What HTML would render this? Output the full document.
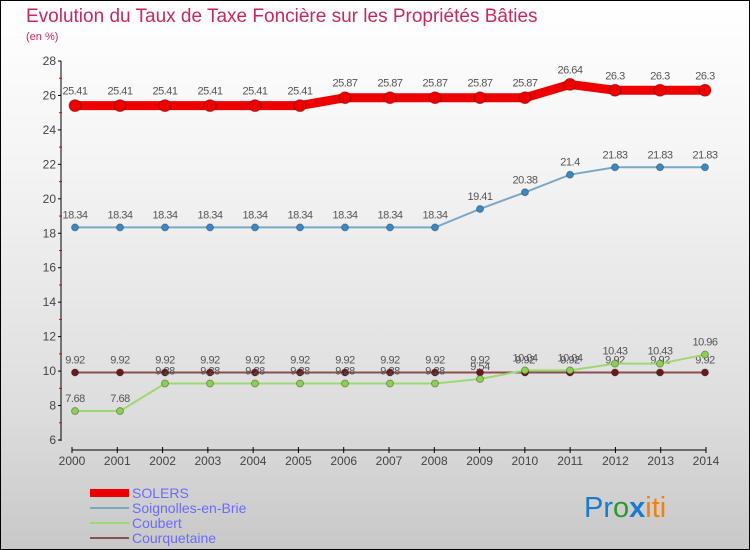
<!DOCTYPE html>
<html><head><meta charset="utf-8"><style>
body{margin:0;width:750px;height:550px;overflow:hidden;font-family:"Liberation Sans",sans-serif}
#bg{position:absolute;left:0;top:0;width:748px;height:548px;border:1px solid #000;background:linear-gradient(#fff,#f4f4f4 30%,#ddd 75%,#c8c8c8)}
</style></head><body>
<div id="bg"></div>
<svg width="750" height="550" style="position:absolute;left:0;top:0">
<text x="26" y="22" font-size="19" fill="#c8285a">Evolution du Taux de Taxe Foncière sur les Propriétés Bâties</text>
<text x="26" y="40" font-size="11" fill="#c8285a">(en %)</text>
<g id="axes"></g><g id="series"></g>
<g>
<rect x="90" y="489" width="39" height="8" fill="#e00"/>
<text x="132" y="498" font-size="14" fill="#6a6aff">SOLERS</text>
<rect x="90" y="507" width="39" height="2" fill="#7aa8c8"/>
<text x="132" y="513" font-size="14" fill="#6a6aff">Soignolles-en-Brie</text>
<rect x="90" y="522" width="39" height="2" fill="#9dd870"/>
<text x="132" y="528" font-size="14" fill="#6a6aff">Coubert</text>
<rect x="90" y="537" width="39" height="2" fill="#8a5050"/>
<text x="132" y="543" font-size="14" fill="#6a6aff">Courquetaine</text>
</g>
<text x="584" y="517" font-size="29"><tspan fill="#1a7ad0">Pr</tspan><tspan fill="#2a9a30">o</tspan><tspan fill="#1a7ad0" font-weight="bold">x</tspan><tspan fill="#f08010">iti</tspan></text>
</svg>
<script>
const years=[2000,2001,2002,2003,2004,2005,2006,2007,2008,2009,2010,2011,2012,2013,2014];
const yTicks=[6,8,10,12,14,16,18,20,22,24,26,28];
const solers=[25.41,25.41,25.41,25.41,25.41,25.41,25.87,25.87,25.87,25.87,25.87,26.64,26.3,26.3,26.3];
const soignolles=[18.34,18.34,18.34,18.34,18.34,18.34,18.34,18.34,18.34,19.41,20.38,21.4,21.83,21.83,21.83];
const coubert=[7.68,7.68,9.28,9.28,9.28,9.28,9.28,9.28,9.28,9.54,10.04,10.04,10.43,10.43,10.96];
const courquetaine=[9.92,9.92,9.92,9.92,9.92,9.92,9.92,9.92,9.92,9.92,9.92,9.92,9.92,9.92,9.92];
const NS='http://www.w3.org/2000/svg';
const X=i=>75+i*45;
const Y=v=>440-(v-6)*(379/22);
function mk(p,tag,a){const e=document.createElementNS(NS,tag);for(const k in a)e.setAttribute(k,a[k]);p.appendChild(e);return e;}
const ax=document.getElementById('axes');
let l=mk(ax,'line',{x1:61,y1:Y(28),x2:61,y2:441,stroke:'#000'});


yTicks.forEach(v=>{
  mk(ax,'line',{x1:58,y1:Y(v),x2:61,y2:Y(v),stroke:'#000'});
  if(v<28) mk(ax,'line',{x1:59,y1:Y(v+1),x2:62,y2:Y(v+1),stroke:'#e00'});
  const t=mk(ax,'text',{x:56,y:Y(v)+4,'font-size':12,'text-anchor':'end',fill:'#444'});t.textContent=v;
  
  
});
l=mk(ax,'line',{x1:72,y1:450,x2:706,y2:450,stroke:'#000'});


years.forEach((y,i)=>{
  const x=72+i*(634/14);
  mk(ax,'line',{x1:x,y1:447,x2:x,y2:453,stroke:'#000'});
  const t=mk(ax,'text',{x:x,y:465,'font-size':12,'text-anchor':'middle',fill:'#444'});t.textContent=y;
  
  
});
const sg=document.getElementById('series');
function draw(name,vals,color,w,r,dot,labelDy){
  const g=mk(sg,'g',{});
  
  
  const pl=mk(g,'polyline',{points:vals.map((v,i)=>X(i)+','+Y(v)).join(' '),fill:'none',stroke:color,'stroke-width':w});
  
  
  vals.forEach((v,i)=>{
    const c=mk(g,'circle',{cx:X(i),cy:Y(v),r:r,fill:dot,stroke:'rgba(0,0,0,0.3)'});
    
    
    const t=mk(g,'text',{x:X(i),y:Y(v)+labelDy,'font-size':11,'text-anchor':'middle',fill:'#555','letter-spacing':'-0.5'});
    t.textContent=v;
    
    
  });
}
draw('courquetaine',courquetaine,'#8a5050',2,3.5,'#6a1a1a',-9);
draw('coubert',coubert,'#9dd870',2,3.5,'#8cd050',-9);
draw('soignolles',soignolles,'#7aa8c8',2,3.5,'#3a88c8',-9);
draw('solers',solers,'#e00',9,6,'#e00',-11);
</script>
</body></html>
